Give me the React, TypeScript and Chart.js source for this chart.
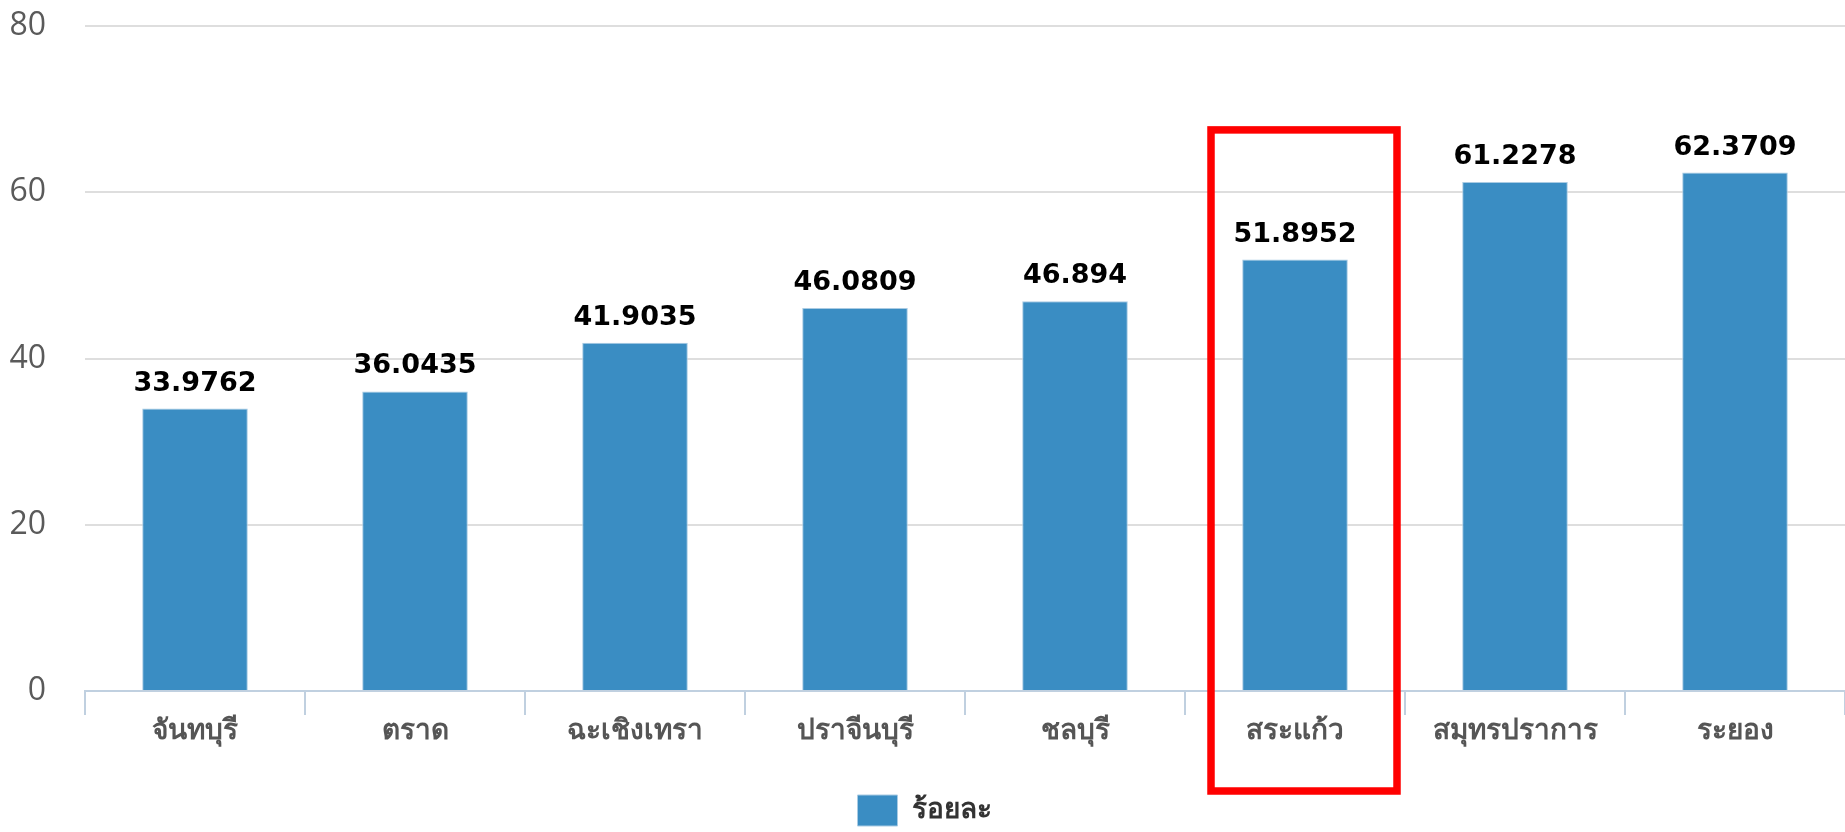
import React, { useEffect, useRef } from "react";
import { Chart, registerables } from "chart.js";

Chart.register(...registerables);

const categories: string[] = [
  "จันทบุรี",
  "ตราด",
  "ฉะเชิงเทรา",
  "ปราจีนบุรี",
  "ชลบุรี",
  "สระแก้ว",
  "สมุทรปราการ",
  "ระยอง",
];
const percentValues: number[] = [33.9762, 36.0435, 41.9035, 46.0809, 46.894, 51.8952, 61.2278, 62.3709];
const seriesName = "ร้อยละ";
const yTicks: number[] = [0, 20, 40, 60, 80];
const highlightIndex = 5;

const BAR_COLOR = "#3a8dc3";
const FONT = '"DejaVu Sans", "Noto Sans", sans-serif';
const TICK_FONT = '"Open Sans", "DejaVu Sans", sans-serif';

const valueLabelPlugin = {
  id: "valueLabels",
  afterDatasetsDraw(chart: any) {
    const ctx = chart.ctx;
    const meta = chart.getDatasetMeta(0);
    ctx.save();
    ctx.font = `bold 27px ${FONT}`;
    ctx.fillStyle = "#000000";
    ctx.textAlign = "center";
    ctx.textBaseline = "alphabetic";
    meta.data.forEach((bar: any, i: number) => {
      ctx.fillText(String(percentValues[i]), bar.x, bar.y - 18);
    });
    ctx.restore();
  },
};

const highlightPlugin = {
  id: "highlightBox",
  afterDraw(chart: any) {
    const ctx = chart.ctx;
    const x = chart.scales.x;
    const cx = x.getPixelForValue(highlightIndex) + 9;
    const top = chart.scales.y.getPixelForValue(67.5);
    const bottom = chart.chartArea.bottom + 100;
    ctx.save();
    ctx.strokeStyle = "#ff0000";
    ctx.lineWidth = 7.5;
    ctx.strokeRect(cx - 93, top, 186, bottom - top);
    ctx.restore();
  },
};

export default function App() {
  const canvasRef = useRef<HTMLCanvasElement | null>(null);

  useEffect(() => {
    if (!canvasRef.current) return;
    const chart = new Chart(canvasRef.current, {
      type: "bar",
      data: {
        labels: categories,
        datasets: [
          {
            label: seriesName,
            data: percentValues,
            backgroundColor: BAR_COLOR,
            borderColor: "#a9cbe3",
            borderWidth: 1,
            borderSkipped: "bottom",
            categoryPercentage: 1,
            barPercentage: 0.48,
          },
        ],
      },
      options: {
        responsive: false,
        animation: false,
        layout: { padding: { left: 0, right: -4, top: 26, bottom: -4 } },
        plugins: {
          tooltip: { enabled: false },
          legend: {
            display: true,
            position: "bottom",
            labels: {
              boxWidth: 40,
              boxHeight: 31,
              padding: 10,
              color: "#333333",
              font: { family: FONT, size: 28, weight: "bold" },
            },
          },
        },
        scales: {
          x: {
            offset: true,
            grid: {
              display: true,
              offset: true,
              drawOnChartArea: false,
              drawTicks: true,
              tickLength: 24,
              color: "#c0d0e0",
              lineWidth: 2,
            },
            border: { display: true, color: "#c0d0e0", width: 2 },
            ticks: {
              color: "#555555",
              padding: 0,
              font: { family: FONT, size: 28, weight: "bold" },
              maxRotation: 0,
            },
            afterFit(scale: any) {
              scale.height = 94;
            },
          },
          y: {
            min: 0,
            max: 80,
            afterBuildTicks(scale: any) {
              scale.ticks = yTicks.map((v) => ({ value: v }));
            },
            grid: {
              color: "#dedede",
              lineWidth: 2,
              drawTicks: true,
              tickLength: 39,
              tickColor: "rgba(0,0,0,0)",
            },
            border: { display: false },
            ticks: {
              color: "#5a5a5a",
              padding: 0,
              font: { family: TICK_FONT, size: 32 },
            },
            afterFit(scale: any) {
              scale.width = 85;
            },
          },
        },
      },
      plugins: [valueLabelPlugin, highlightPlugin],
    });
    return () => chart.destroy();
  }, []);

  return (
    <div style={{ position: "fixed", left: 0, top: 0, width: 1845, height: 832, background: "#ffffff" }}>
      <canvas ref={canvasRef} width={1845} height={832} style={{ width: 1845, height: 832, display: "block" }} />
    </div>
  );
}
